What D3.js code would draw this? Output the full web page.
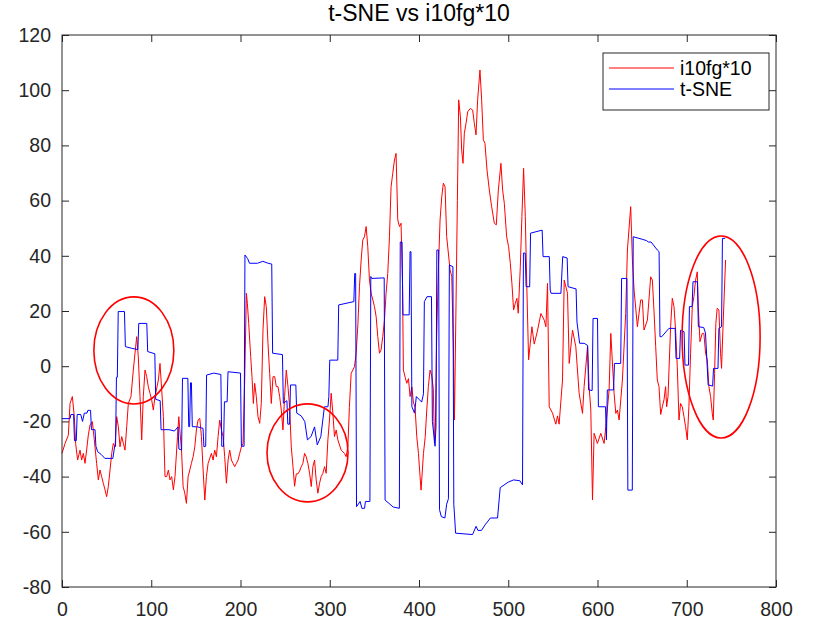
<!DOCTYPE html>
<html><head><meta charset="utf-8">
<script src="https://cdn.jsdelivr.net/npm/d3@7"></script>
<style>body{margin:0;background:#fff}svg{display:block}</style>
</head><body><svg id="c" width="813" height="620"></svg>
<script>
const title = "t-SNE vs i10fg*10";
const seriesNames = ["i10fg*10", "t-SNE"];
const xTicks = [0,100,200,300,400,500,600,700,800];
const yTicks = [-80,-60,-40,-20,0,20,40,60,80,100,120];

const redSeries = [
[0,-31.6],[3.4,-28],[7.1,-25],[9,-13.5],[11.6,-11],[13.8,-18.3],[15.3,-28],[17.5,-34],[20.2,-30.4],[22,-34],[23.9,-31.6],[25.8,-35.2],[27.6,-30.4],[29.5,-24.9],[31.4,-21.3],[34,-20.1],[36.2,-26.7],[38.8,-35.2],[40.7,-41.2],[42.6,-37.6],[44.4,-40],[46.3,-42.4],[48.2,-44.8],[50,-47.3],[51.9,-43.6],[53.8,-37.6],[55.7,-31.6],[57.5,-28],[59.4,-29.2],[61.3,-18.3],[63.1,-21.9],[65,-29.2],[66.9,-25.5],[68.7,-27.9],[70.6,-30.4],[72.5,-21.9],[74.3,-13.5],[77.3,-11],[79.9,-1.4],[81.8,4.7],[83.7,10.7],[85.5,3.4],[87.4,-11],[89.3,-26.7],[91.1,-11],[93,-1.4],[94.9,-3.8],[96.7,-7.4],[98.6,-9.8],[100.5,-12.2],[102.3,-15.9],[104.2,-11],[108,-5],[109.8,1],[111.7,-8.6],[113.6,-18.3],[115.4,-40],[117.3,-40],[119.2,-37.6],[121,-41.2],[122.9,-40],[124.8,-44.8],[126.6,-40],[129.4,-25.5],[130.9,-18.3],[132,-23.1],[133.9,-30.4],[135.7,-43.6],[137.6,-46],[139.4,-49.7],[141.3,-40],[143.2,-37.6],[145,-35.2],[146.9,-32.8],[148.8,-29.2],[150.6,-23.1],[152.5,-19.5],[154.4,-18.9],[156.2,-25.5],[158.1,-37.6],[160,-48.5],[161.8,-40],[163.7,-35.2],[167.4,-31.6],[169.3,-34],[171.1,-30.4],[173,-32.8],[174.9,-25.5],[176.7,-19.5],[178.6,-23.1],[180.5,-25.5],[182.3,-32.8],[184.2,-42.4],[186.1,-34],[187.9,-30.4],[189.8,-34],[191.7,-35.2],[193.5,-36.4],[195.4,-35.2],[197.3,-34],[199.1,-31.6],[201,-29.2],[202.8,-28],[204.7,-5],[206.6,26.4],[207.7,22.8],[209.2,15.5],[211.4,3.5],[212.9,-3.8],[214.4,-13.5],[215.9,-6.2],[217.7,-11],[219.6,-18.3],[221.5,-20.7],[223.3,-13.5],[225.2,13.1],[227.1,25.2],[228.9,21.6],[230.8,8.3],[232.7,-2.6],[234.5,-13.5],[236.4,-3.8],[238.3,-3.8],[240.1,-7.4],[242,-7.4],[243.9,-11],[245.7,-15.9],[247.6,-23.1],[249.4,-11],[251.3,-1.4],[253.2,-7.4],[255,-14.7],[256.9,-29.2],[258.8,-36.4],[260.6,-43.5],[262.5,-39],[264.4,-39],[266.2,-38],[268.1,-36.4],[269.9,-35.2],[271.8,-31.6],[273.6,-32.8],[275.5,-35.2],[277.4,-38.8],[279.3,-43.6],[281.1,-36.4],[283,-34],[284.8,-41.2],[286.7,-46],[288.6,-42.4],[290.4,-40],[292.3,-38.8],[294.2,-36.4],[296,-38.8],[297.9,-26.7],[299.7,-19.5],[301.6,-9.8],[303.5,-17],[305.3,-25.5],[307.2,-23.1],[309.1,-26.7],[312.8,-30.4],[316.5,-31.6],[318.4,-32.8],[320.3,-29],[322,-15],[324,-2.6],[327.7,-0.2],[329.6,4.7],[331.5,15],[333.3,28.8],[335.2,38.5],[337,45.7],[338.9,46.9],[340.8,50.6],[342.6,43.3],[344.5,31.2],[346.4,26.4],[348.3,24],[350.1,21.6],[352,17.9],[353.8,10.7],[355.7,4.7],[357.5,5.9],[359.4,10.7],[361.3,16.7],[363.1,26.4],[365,33.6],[366.9,46.9],[368.7,65],[370.6,69.9],[372.5,74.7],[374.3,77.1],[376.2,53],[378.1,50.6],[379.9,51.8],[381.5,30],[382.5,-1.4],[384.5,-4],[386.3,-6.2],[388.2,-4.5],[390,-11],[392,-7.5],[393.7,-13],[395.6,-15],[397.5,-25.5],[399.4,-31.6],[401.2,-40],[402.3,-44.9],[405,-31.6],[407,-25.5],[408.7,-15.9],[410.5,-7.4],[412.4,-1.4],[414.3,-3.5],[416,-8],[417.3,-27.9],[418.4,-20.5],[419.8,10.7],[421.7,34.9],[423.6,53],[425.5,61.4],[427.3,66.3],[429.2,65],[431,47],[434.8,34.9],[436.7,32.5],[438.5,7],[439.7,-19.5],[441.5,23],[443,60],[444.5,96.5],[446.4,90.4],[447.8,78.3],[449.3,73.5],[450.8,84.4],[452.7,88],[454.6,92.2],[457.5,93.4],[460.1,92.8],[462,88],[463.9,83.8],[465.7,96.5],[468.3,107.3],[470.2,96.5],[472.1,82],[473.9,80.8],[476.2,71.1],[478.8,63.8],[481.4,57.8],[484.4,51.8],[486.6,51.2],[488.9,63.8],[491.8,73.5],[493.7,63.8],[495.6,59],[498.2,46.9],[500.4,43.3],[502.3,37.3],[504.1,30],[506,20.4],[507.9,22.8],[509.7,24.6],[511.2,19.2],[513.5,36],[515.3,54.2],[517.2,71.7],[519.1,54.2],[520.9,27.6],[522.8,2.3],[524.7,8.3],[526.5,14.3],[529.1,8],[532.5,12.5],[536.6,19.1],[540.3,16.7],[542.2,14.3],[544,30],[545.9,-14.7],[549.6,-17],[553.3,-21],[555.2,-18],[557,-21],[560.8,-5],[562.7,31.2],[566.4,26.4],[568.3,1],[572,13.1],[575.7,7.1],[579.4,-9.8],[583.2,-17.1],[585,-7.4],[588.8,7.1],[590.6,-7.4],[592.5,-15.9],[594.4,-48.5],[596.2,-24.3],[599.9,-28],[603.7,-24.3],[607.4,-28],[609.3,-21.9],[613,-8.6],[614.9,11.9],[618.6,-9.8],[620.5,-17.1],[622.3,-15.9],[624.2,-19.5],[627.9,-5],[631.6,19.1],[633.5,42.1],[637.2,57.8],[639.1,38.5],[641,27.6],[644.7,14.3],[648.4,24],[650.3,24],[652.1,13.1],[655.9,16.7],[659.6,32.4],[661.5,31.2],[663.3,20],[665.2,7.1],[667,-5],[668.9,-7.4],[670.8,-17.5],[672.6,-14.7],[674.5,-12.2],[676.3,-7.4],[677.5,-14.7],[679,-11],[681.9,14.3],[683.8,24.6],[685.7,21.6],[687.5,13.1],[689.4,-0.2],[691.3,-19.5],[693.1,-13.5],[695,-14.7],[696.9,-18.3],[698.7,-21.9],[700.6,-26.7],[702.4,-14.7],[704.3,4.7],[706.2,21.6],[708,25.2],[709.9,31.2],[711.8,34.2],[712.9,21.6],[714.8,8.9],[717.4,11.9],[719.2,11.9],[721.1,4.7],[723,2.3],[724.8,-7.4],[726.7,-11],[728.6,-17.1],[729.7,-19.5],[731.2,-2.6],[732.6,15.5],[734.1,21],[736,20.4],[737.9,4.7],[739,-0.8],[740.9,16.7],[743.5,38.5]
];

const blueSeries = [
[0,-19],[9,-19],[10,-17.5],[13,-17.5],[14,-27],[16,-27],[17,-17.5],[21,-17.5],[23,-20],[25,-17],[28,-17],[29,-16],[32,-16],[33,-23],[37,-23],[38,-29],[40,-31],[44,-32],[48,-33.4],[57,-33.4],[59,-29],[60,-29],[61,-4],[62,-4],[63,19.8],[70,19.8],[71,7.1],[78,6.5],[85,6],[86,15.5],[95,15.5],[96,5.3],[104,4.5],[105,-12],[110,-12.5],[111,-23],[120,-23],[126,-23.5],[130,-22],[131,-30],[134,-30.4],[135,-4.4],[141,-4.4],[142,-21.9],[143,-21.9],[144,-6],[145,-6],[146,-21.9],[152,-22],[158,-22.5],[159,-29.2],[161,-29],[162,-3.2],[170,-2.5],[178,-3],[179,-29],[181,-29],[182,-12.9],[185,-12.9],[186,-2],[200,-2.5],[201,-29],[204,-29],[205,40.3],[208,39],[210,37.3],[219,37.3],[225,38],[231,37.3],[235,37],[236,4.7],[247,4.2],[248,-13.4],[252,-12.5],[253,-21],[255,-21],[256,-6.8],[262,-6.8],[263,-17],[268,-18],[272,-20],[275,-26.7],[279,-25.5],[283,-22],[286,-28.5],[290,-25.5],[294,-14.7],[298,-14.7],[299,-11],[300,2.2],[309,2.2],[310,22.2],[327,23.4],[328,33.6],[329,33.6],[330,-50.9],[334,-49],[336,-51.5],[339,-51.5],[340,-49],[345,-49],[346,32.5],[347,31.8],[361,32],[362,-48.5],[371,-51],[378,-51.5],[379,45],[381,45],[382,18.6],[389,18.6],[390,41.5],[391,41.5],[392,-14.7],[395,-17],[397,-11],[400,-12],[403,-13],[405,-10],[406,23.4],[409,25.2],[414,25.2],[415,-20],[418,-29],[419,-22],[420,42.1],[422,42.1],[423,-52],[425,-54.5],[429,-55],[431,-50],[433,-48],[434,36.7],[438,36],[439,-50],[440,-55],[441,-60.5],[460,-61],[464,-58],[466,-59.5],[470,-59.5],[474,-57.5],[480,-55],[488,-55],[491,-44],[500,-42],[506,-41.2],[513,-41.5],[516,-43],[517,41],[519,41],[520,28.8],[524,28.8],[525,48.2],[538,49.3],[539,39.7],[546,39.7],[547,27.6],[548,26.4],[559,26.4],[561,39.7],[566,39.2],[567,28.8],[576,28],[577,16],[580,8.3],[585,8.3],[589,7.5],[590,-8.6],[594,-8.8],[595,17.3],[600,17.3],[601,-14.7],[609,-14.7],[610,-26.7],[611,-8.6],[618,-8.6],[619,1],[626,1],[627,31.8],[633,31.8],[634,-44.9],[639,-44.9],[640,46.9],[650,46],[655,45.5],[657,45],[660,45],[667,42.1],[669,41.5],[670,10.7],[672,10.7],[680,13.7],[687,13.7],[688,2.8],[692,2.8],[693,13],[697,12.5],[698,0.4],[702,0.4],[703,21.6],[706,21.6],[707,30.6],[712,30.6],[713,14.3],[719,14],[721,12],[724,-6.8],[729,-7.2],[730,-0.8],[735,-0.8],[736,13.7],[739,14.3],[740,46.3],[743,46.3]
];

// annotation ellipses in data units: [cx, cy, rx, ry]
const ellipses = [[80.5,5.7,44.8,19.4],[275.1,-31.4,45.4,17.75],[738.5,10.6,43.7,36.6]];

const svg = d3.select("#c");
const L=62, R=776, T=35, B=587;
const x = d3.scaleLinear().domain([0,800]).range([L,R]);
const y = d3.scaleLinear().domain([-80,120]).range([B,T]);
const axisColor = "#262626";
const font = "Liberation Sans, Arial, sans-serif";
const fmt = d => String(d);

const line = d3.line().x(d=>x(d[0])).y(d=>y(d[1]));
const g = svg.append("g");
g.append("path").datum(redSeries).attr("d",line).attr("fill","none").attr("stroke","#ff0000").attr("stroke-width",1).attr("stroke-linejoin","round");
g.append("path").datum(blueSeries).attr("d",line).attr("fill","none").attr("stroke","#0000ff").attr("stroke-width",1).attr("stroke-linejoin","round");

// axes
function styleAxis(sel){
  sel.selectAll("path,line").attr("stroke",axisColor);
  sel.selectAll("text").attr("fill",axisColor).style("font-family",font).style("font-size","19.5px");
  sel.select(".domain").remove();
}
svg.append("g").attr("transform",`translate(0,${B})`)
  .call(d3.axisBottom(x).tickValues(xTicks).tickSizeInner(-7).tickSizeOuter(0).tickPadding(15).tickFormat(fmt))
  .call(styleAxis);
svg.append("g").attr("transform",`translate(${L},0)`)
  .call(d3.axisLeft(y).tickValues(yTicks).tickSizeInner(-7).tickSizeOuter(0).tickPadding(11).tickFormat(fmt))
  .call(styleAxis);
svg.append("g").attr("transform",`translate(0,${T})`)
  .call(d3.axisTop(x).tickValues(xTicks).tickSizeInner(-7).tickSizeOuter(0).tickFormat(""))
  .call(styleAxis);
svg.append("g").attr("transform",`translate(${R},0)`)
  .call(d3.axisRight(y).tickValues(yTicks).tickSizeInner(-7).tickSizeOuter(0).tickFormat(""))
  .call(styleAxis);
svg.append("rect").attr("x",L).attr("y",T).attr("width",R-L).attr("height",B-T)
  .attr("fill","none").attr("stroke",axisColor).attr("stroke-width",1);

// title
svg.append("text").attr("x",(L+R)/2).attr("y",21).attr("text-anchor","middle")
  .style("font-family",font).style("font-size","23px").attr("fill","#000").text(title);

// ellipses
svg.append("g").selectAll("ellipse").data(ellipses).join("ellipse")
  .attr("cx",d=>x(d[0])).attr("cy",d=>y(d[1]))
  .attr("rx",d=>x(d[2])-x(0)).attr("ry",d=>y(0)-y(d[3]))
  .attr("fill","none").attr("stroke","#ff0000").attr("stroke-width",1.6);

// legend
const lg = svg.append("g");
lg.append("rect").attr("x",603).attr("y",53).attr("width",166).attr("height",57)
  .attr("fill","#fff").attr("stroke",axisColor).attr("stroke-width",1);
const colors = ["#ff0000","#0000ff"];
seriesNames.forEach((n,i)=>{
  const yy = 68 + i*21;
  lg.append("line").attr("x1",609).attr("x2",674).attr("y1",yy).attr("y2",yy).attr("stroke",colors[i]).attr("stroke-width",1);
  lg.append("text").attr("x",680).attr("y",yy).attr("dy","0.35em")
    .style("font-family",font).style("font-size","19.5px").attr("fill","#000").text(n);
});
</script></body></html>
